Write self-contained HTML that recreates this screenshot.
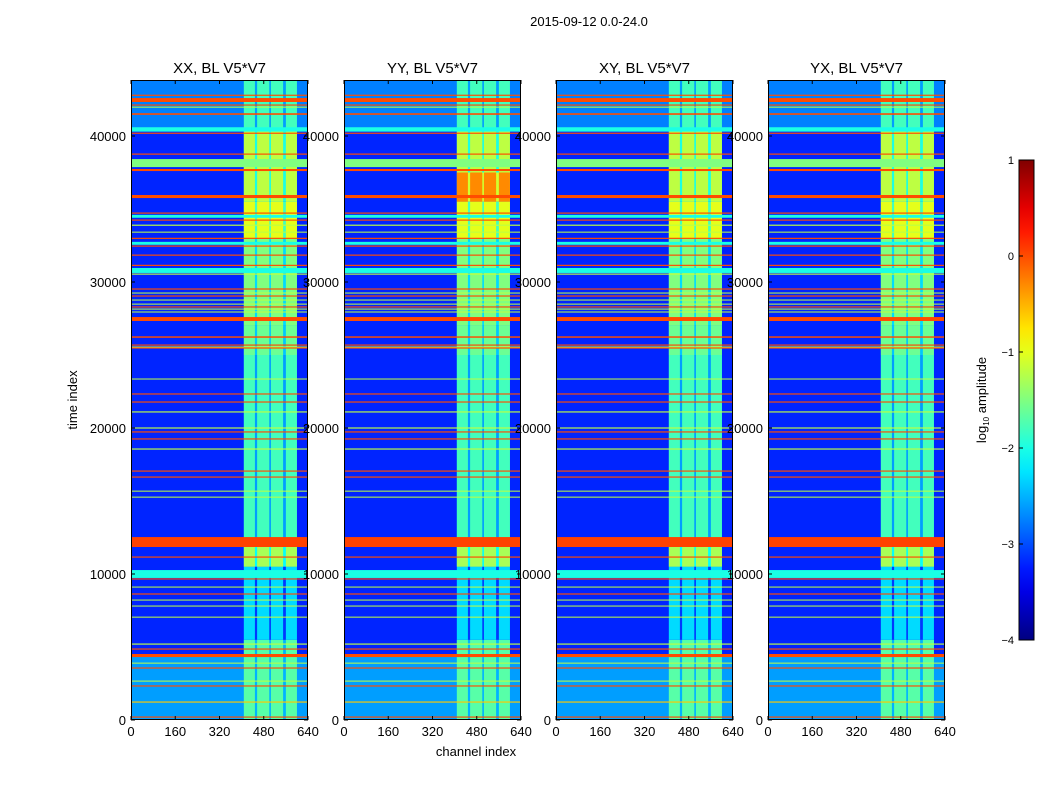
<!DOCTYPE html>
<html><head><meta charset="utf-8"><style>
body{margin:0;background:#fff;}
svg{display:block;font-family:"Liberation Sans",sans-serif;}
</style></head><body>
<svg id="fig" width="1050" height="800" viewBox="0 0 1050 800">
<rect width="1050" height="800" fill="#fff"/>
<text x="589" y="26" font-size="13" text-anchor="middle">2015-09-12 0.0-24.0</text>
<text transform="translate(77,400) rotate(-90)" font-size="13" text-anchor="middle">time index</text>
<text x="476" y="756" font-size="13" text-anchor="middle">channel index</text>
<g id="panels"></g>
<g id="cbar"></g>
</svg>
<script>
const panelTitles = ["XX, BL V5*V7","YY, BL V5*V7","XY, BL V5*V7","YX, BL V5*V7"];
const xTicks = [0,160,320,480,640];
const yTicks = [0,10000,20000,30000,40000];
const cbarTicks = [1,0,-1,-2,-3,-4];
const bgT0 = [0,4500,40500];
const bgT1 = [4500,40500,43800];
const bgLevel = [-2.6,-3.2,-2.75];
const stripeC0 = [408,456,506,560];
const stripeC1 = [448,500,550,600];
const bandT0 = [0,5500,10500,12500,25000,27000,33000,35500,37500,40500];
const bandT1 = [5500,10500,12500,25000,27000,33000,35500,37500,40500,43800];
const bandLevel = [-1.7,-2.3,-1.3,-1.8,-1.6,-1.5,-1.0,-1.2,-1.2,-1.8];
const bandLevelYY = [-1.7,-2.3,-1.3,-1.8,-1.6,-1.5,-1.0,-0.3,-1.2,-1.8];
const lineT0 = [42750,42330,42080,41950,41450,40300,40150,38720,37870,37600,35750,34680,34400,34200,33850,33380,32950,32550,32420,31800,31100,30620,30500,29480,29210,29000,28730,28450,28250,28110,27910,27330,26180,25640,25510,25440,23320,22290,21740,21060,19960,19690,19210,18520,17010,16600,15640,15230,11850,11120,9730,9620,9070,8590,8180,7770,7010,5160,4820,4310,3860,3520,2630,2290,1190,160];
const lineT1 = [42830,42600,42160,42010,41560,40600,40230,38800,38420,37740,35960,34760,34600,34280,33930,33450,33030,32750,32500,31880,31180,30960,30580,29560,29280,29080,28800,28520,28330,28180,27980,27600,26280,25720,25580,25520,23390,22370,21820,21140,20040,19770,19290,18600,17090,16680,15710,15300,12530,11200,10270,9700,9140,8670,8250,7840,7080,5240,4900,4520,3930,3600,2700,2370,1270,240];
const lineLevel = [0,0,0,-1.2,0,-2.0,0,0,-1.5,0,0,0,-2.0,0,-1.2,-1.2,0,-2.0,0,0,0,-2.0,-1.2,0,-1.2,0,-1.2,-1.2,0,-1.2,-1.2,0,0,0,-1.2,0,-1.2,0,0,-1.2,-1.2,0,0,-1.2,0,0,-1.2,-1.2,0.05,0,-2.0,0,-1.2,0,-1.2,-1.2,-1.2,-1.2,0,0,-1.2,0,-1.2,0,-0.6,0];

const NS="http://www.w3.org/2000/svg";
const panelX0=[131,344,556,768], PW=177, PY0=80, PY1=720, TMAX=43836, CMAX=640;
function jet(v){let f=(v+4)/5;f=Math.max(0,Math.min(1,f));
 const c=x=>Math.round(255*Math.max(0,Math.min(1,1.5-Math.abs(4*f-x))));
 return `rgb(${c(3)},${c(2)},${c(1)})`;}
function mk(tag,attrs,parent){const e=document.createElementNS(NS,tag);for(const k in attrs)e.setAttribute(k,attrs[k]);parent.appendChild(e);return e;}
const panels=document.getElementById('panels');
panelTitles.forEach((title,p)=>{
 const x0=panelX0[p];
 const xs=c=>x0+c/CMAX*PW, ys=t=>PY1-t/TMAX*(PY1-PY0);
 const g=mk('g',{},panels);
 
 
 bgT0.forEach((t0,i)=>{const r=mk('rect',{x:x0,y:ys(bgT1[i]),width:PW,height:ys(t0)-ys(bgT1[i]),fill:jet(bgLevel[i])},g);
  
  });
 const lv=p===1?bandLevelYY:bandLevel;
 bandT0.forEach((t0,i)=>{
  const b=mk('rect',{x:xs(stripeC0[0]),y:ys(bandT1[i]),width:xs(stripeC1[3])-xs(stripeC0[0]),height:ys(t0)-ys(bandT1[i]),fill:jet(lv[i]-0.8)},g);
  
  
  stripeC0.forEach((c0,j)=>{
  const r=mk('rect',{x:xs(c0),y:ys(bandT1[i]),width:xs(stripeC1[j])-xs(c0),height:ys(t0)-ys(bandT1[i]),fill:jet(lv[i])},g);
  
  });});
 lineT0.forEach((t0,i)=>{const h=Math.max(1,ys(t0)-ys(lineT1[i]));
  const r=mk('rect',{x:x0,y:ys(lineT1[i]),width:PW,height:h,fill:jet(lineLevel[i])},g);
  
  });
 const fr=mk('rect',{x:x0+0.5,y:PY0+0.5,width:PW-1,height:PY1-PY0-1,fill:'none',stroke:'#000','stroke-width':1},g);
 
 
 xTicks.forEach(v=>{const x=xs(v);
  mk('line',{x1:x,x2:x,y1:PY1,y2:PY1-4,stroke:'#000'},g);mk('line',{x1:x,x2:x,y1:PY0,y2:PY0+4,stroke:'#000'},g);
  const t=mk('text',{x:x,y:PY1+16,'font-size':13,'text-anchor':'middle'},g);t.textContent=v;
  
  });
 yTicks.forEach(v=>{const y=ys(v);
  mk('line',{x1:x0,x2:x0+4,y1:y,y2:y,stroke:'#000'},g);mk('line',{x1:x0+PW,x2:x0+PW-4,y1:y,y2:y,stroke:'#000'},g);
  const t=mk('text',{x:x0-5,y:y+5,'font-size':13,'text-anchor':'end'},g);t.textContent=v;
  
  });
 const tt=mk('text',{x:x0+PW/2,y:73,'font-size':15,'text-anchor':'middle'},g);tt.textContent=title;
 
 
});
const cb=document.getElementById('cbar');
const defs=mk('defs',{},cb);const lg=mk('linearGradient',{id:'jetg',x1:0,y1:1,x2:0,y2:0},defs);
for(let i=0;i<=20;i++){const v=-4+5*i/20;mk('stop',{offset:i/20,'stop-color':jet(v)},lg);}
const CX=1019,CW=15,CY0=160,CY1=640;
const cr=mk('rect',{x:CX,y:CY0,width:CW,height:CY1-CY0,fill:'url(#jetg)',stroke:'#000'},cb);


cbarTicks.forEach(v=>{const y=CY1-(v+4)/5*(CY1-CY0);
 mk('line',{x1:CX,x2:CX+4,y1:y,y2:y,stroke:'#000'},cb);
 const t=mk('text',{x:CX-5,y:y+4,'font-size':11,'text-anchor':'end'},cb);t.textContent=(v<0?'\u2212'+(-v):v);
 
 });
const cl=mk('text',{transform:'translate(986,400) rotate(-90)','font-size':13,'text-anchor':'middle'},cb);


cl.innerHTML='log<tspan font-size="8" dy="3">10</tspan><tspan dy="-3"> amplitude</tspan>';
</script>
</body></html>
